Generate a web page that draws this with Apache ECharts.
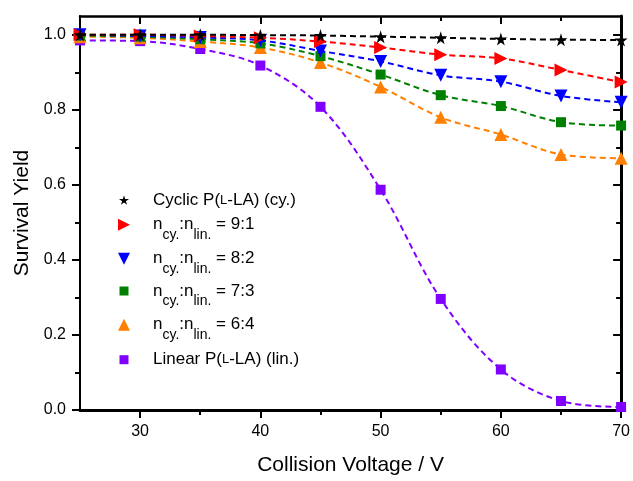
<!DOCTYPE html>
<html><head><meta charset="utf-8">
<script src="https://cdn.jsdelivr.net/npm/echarts@6/dist/echarts.min.js"></script>
<style>html,body{margin:0;padding:0;background:#fff}#c{width:633px;height:481px}</style>
</head><body><div id="c"></div>
<script>
// ---- data ----
const voltages = [25, 30, 35, 40, 45, 50, 55, 60, 65, 70];
const cyclic   = [1.0, 1.0, 1.0, 0.999, 0.998, 0.995, 0.992, 0.989, 0.987, 0.986];
const ratio91  = [1.0, 1.0, 0.997, 0.992, 0.982, 0.966, 0.947, 0.937, 0.906, 0.874];
const ratio82  = [1.0, 0.997, 0.993, 0.985, 0.957, 0.929, 0.892, 0.875, 0.837, 0.820];
const ratio73  = [0.998, 0.995, 0.988, 0.977, 0.943, 0.894, 0.839, 0.810, 0.767, 0.758];
const ratio64  = [0.995, 0.992, 0.982, 0.966, 0.926, 0.861, 0.780, 0.734, 0.681, 0.671];
const linear   = [0.985, 0.983, 0.962, 0.918, 0.808, 0.587, 0.296, 0.108, 0.024, 0.008];
const xMajorTicks = [30, 40, 50, 60, 70];
const xMinorTicks = [35, 45, 55, 65];
const yMajorTicks = [0, 0.2, 0.4, 0.6, 0.8, 1.0];
const yMinorTicks = [0.1, 0.3, 0.5, 0.7, 0.9];
const seriesNames = ['Cyclic P(L-LA) (cy.)', 'ncy.:nlin. = 9:1', 'ncy.:nlin. = 8:2',
                     'ncy.:nlin. = 7:3', 'ncy.:nlin. = 6:4', 'Linear P(L-LA) (lin.)'];
const legendLabels = ['Cyclic P({sc|L}-LA) (cy.)', 'n{sub|cy.}:n{sub|lin.} = 9:1',
                      'n{sub|cy.}:n{sub|lin.} = 8:2', 'n{sub|cy.}:n{sub|lin.} = 7:3',
                      'n{sub|cy.}:n{sub|lin.} = 6:4', 'Linear P({sc|L}-LA) (lin.)'];
const seriesValues = [cyclic, ratio91, ratio82, ratio73, ratio64, linear];

// ---- styles ----
const colors = ['#000000', '#ff0000', '#0000ff', '#008000', '#ff8000', '#8000ff'];
const STAR = 'path://M50,0L61,35L98,35L68,57L79,91L50,70L21,91L32,57L2,35L39,35Z';
const RIGHT_TRI = 'path://M0,0L10,5L0,10Z';
const DOWN_TRI = 'path://M0,0L10,0L5,10Z';
const UP_TRI = 'path://M5,0L10,10L0,10Z';
const symbols = [STAR, RIGHT_TRI, DOWN_TRI, 'rect', UP_TRI, 'rect'];
const symbolSizes = [13, 13, 13, 10, 13, 10];
const legendIconSizes = [10, 12, 12, 9, 12, 9];
const legendCenters = [200, 224.7, 258.7, 291, 324.8, 359.7];
const richRow = [false, true, true, true, true, false];
const FONT = 'Liberation Sans, Arial, sans-serif';

const chart = echarts.init(document.getElementById('c'), null, {renderer: 'canvas'});

function xAxisDef(pos, ticks, len, inside, showLine, lineW, labels) {
  return {
    type: 'value', position: pos, min: 25, max: 70,
    axisLine: {show: showLine, onZero: false, lineStyle: {color: '#000', width: lineW}},
    axisTick: {show: true, inside: inside, length: len, customValues: ticks, lineStyle: {color: '#000', width: 2}},
    axisLabel: labels ? {show: true, customValues: xMajorTicks, color: '#000', fontSize: 16, margin: 14, fontFamily: FONT} : {show: false},
    splitLine: {show: false}
  };
}
function yAxisDef(pos, ticks, len, inside, showLine, lineW, labels) {
  return {
    type: 'value', position: pos, min: 0, max: 1.05,
    axisLine: {show: showLine, onZero: false, lineStyle: {color: '#000', width: lineW}},
    axisTick: {show: true, inside: inside, length: len, customValues: ticks, lineStyle: {color: '#000', width: 2}},
    axisLabel: labels ? {show: true, customValues: yMajorTicks, color: '#000', fontSize: 16, margin: 14, fontFamily: FONT,
                         formatter: v => v.toFixed(1)} : {show: false},
    splitLine: {show: false}
  };
}

const xAxes = [
  Object.assign(xAxisDef('bottom', xMajorTicks, 8, false, true, 3, true), {
    name: 'Collision Voltage / V', nameLocation: 'middle', nameGap: 45,
    nameTextStyle: {color: '#000', fontSize: 21, fontFamily: FONT}
  }),
  xAxisDef('bottom', xMinorTicks, 5, false, false, 0, false),
  xAxisDef('top', xMajorTicks, 8, true, true, 2.5, false),
  xAxisDef('top', xMinorTicks, 5, true, false, 0, false)
];
const yAxes = [
  Object.assign(yAxisDef('left', yMajorTicks, 8, false, true, 2, true), {
    name: 'Survival Yield', nameLocation: 'middle', nameGap: 46,
    nameTextStyle: {color: '#000', fontSize: 21, fontFamily: FONT}
  }),
  yAxisDef('left', yMinorTicks, 5, false, false, 0, false),
  yAxisDef('right', yMajorTicks, 8, true, true, 3, false),
  yAxisDef('right', yMinorTicks, 5, true, false, 0, false)
];

const series = seriesNames.map((name, i) => ({
  name: name, type: 'line',
  xAxisIndex: 0, yAxisIndex: 0,
  data: voltages.map((v, j) => [v, seriesValues[i][j]]),
  smooth: 0.35,
  symbol: symbols[i], symbolSize: symbolSizes[i],
  itemStyle: {color: colors[i]},
  lineStyle: {color: colors[i], width: 2, type: [6, 4]},
  z: 2 + (5 - i),
  animation: false
}));

const legends = seriesNames.map((name, i) => {
  const w = legendIconSizes[i];
  const left = 124 - w / 2;
  const h = richRow[i] ? 35 : 20;
  return {
    show: true, orient: 'vertical', left: left, top: legendCenters[i] - h / 2,
    padding: 0, itemWidth: w, itemHeight: w,
    data: [{name: name, icon: symbols[i]}],
    formatter: () => legendLabels[i],
    textStyle: {
      color: '#000', fontSize: 17, lineHeight: 20, fontFamily: FONT,
      padding: [0, 0, 0, 153 - (left + w + 5)],
      rich: {
        sub: {fontSize: 14, lineHeight: 14, padding: [21, 0, 0, 0], color: '#000', fontFamily: FONT},
        sc: {fontSize: 13, lineHeight: 20, color: '#000', fontFamily: FONT}
      }
    },
    selectedMode: false
  };
});

chart.setOption({
  animation: false,
  backgroundColor: '#fff',
  textStyle: {fontFamily: FONT},
  grid: {left: 80, right: 8, top: 16, bottom: 65, containLabel: false},
  xAxis: xAxes,
  yAxis: yAxes,
  legend: legends,
  series: series
});
</script></body></html>
